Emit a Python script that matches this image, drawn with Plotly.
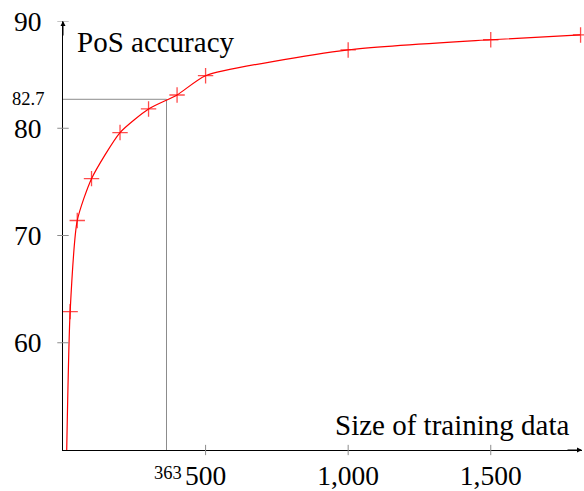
import plotly.graph_objects as go

# Data
train_size = [13, 25, 50, 100, 200, 300, 400, 500, 1000, 1500, 1815]
pos_accuracy = [50.0, 62.9, 71.4, 75.3, 79.6, 81.8, 83.1, 84.9, 87.3, 88.25, 88.7]
show_mark = [False, True, True, True, True, True, True, True, True, True, True]

ref_x = 363
ref_y = 82.7

y_ticks = [60, 70, 80, 90]
y_tick_labels = ["60", "70", "80", "90"]
x_ticks = [500, 1000, 1500]
x_tick_labels = ["500", "1,000", "1,500"]

X_MAX = 1820
Y_MIN, Y_MAX = 50, 90

FONT = "Liberation Serif"

fig = go.Figure()

# Reference lines
fig.add_trace(go.Scatter(
    x=[0, ref_x, ref_x], y=[ref_y, ref_y, Y_MIN],
    mode="lines", line=dict(color="#8c8c8c", width=1),
    hoverinfo="skip", showlegend=False, cliponaxis=False))

# Main curve
fig.add_trace(go.Scatter(
    x=train_size, y=pos_accuracy, mode="lines+markers",
    line=dict(color="#ff0000", width=1.2, shape="spline", smoothing=0.6),
    marker=dict(symbol="cross-thin", size=[11 if m else 0 for m in show_mark],
                line=dict(color="#ff0000", width=1.3), color="#ff0000"),
    showlegend=False, cliponaxis=False))

shapes = []
for t in y_ticks:
    shapes.append(dict(type="line", xref="paper", yref="y", x0=-0.011, x1=0.011,
                       y0=t, y1=t, line=dict(color="#8c8c8c", width=1)))
for t in x_ticks:
    shapes.append(dict(type="line", xref="x", yref="paper", x0=t, x1=t,
                       y0=-0.012, y1=0.012, line=dict(color="#8c8c8c", width=1)))

annotations = [
    # axis arrows
    dict(x=0, y=Y_MAX, xref="x", yref="y", ax=0, ay=16, axref="pixel", ayref="pixel",
         showarrow=True, arrowhead=2, arrowsize=1, arrowwidth=1, arrowcolor="black", text=""),
    dict(x=1, y=Y_MIN, xref="paper", yref="y", ax=-16, ay=0,
         showarrow=True, arrowhead=2, arrowsize=1, arrowwidth=1, arrowcolor="black", text=""),
    # axis titles
    dict(x=12 / 519, y=1.0, xref="paper", yref="paper", xanchor="left", yanchor="top",
         yshift=-3, text="PoS accuracy", showarrow=False,
         font=dict(family=FONT, size=29, color="black")),
    dict(x=(571 - 63) / 519, y=Y_MIN, xref="paper", yref="y", xanchor="right", yanchor="bottom",
         yshift=7, text="Size of training data", showarrow=False,
         font=dict(family=FONT, size=29, color="black")),
    # reference labels
    dict(x=0, y=ref_y, xref="paper", yref="y", xanchor="right", yanchor="middle",
         xshift=-17, text=f"{ref_y}", showarrow=False,
         font=dict(family=FONT, size=18.5, color="black")),
    dict(x=ref_x, y=0, xref="x", yref="paper", xanchor="center", yanchor="top",
         yshift=-11, xshift=1, text=f"{ref_x}", showarrow=False,
         font=dict(family=FONT, size=18.5, color="black")),
]

fig.update_layout(
    width=584, height=491,
    margin=dict(l=63, r=2, t=21, b=41),
    paper_bgcolor="white", plot_bgcolor="white",
    font=dict(family=FONT, color="black"),
    shapes=shapes, annotations=annotations,
    xaxis=dict(range=[0, X_MAX], showgrid=False, zeroline=False, showline=True,
               linecolor="black", linewidth=1, tickmode="array", automargin=False,
               tickvals=x_ticks, ticktext=x_tick_labels, ticks="",
               tickfont=dict(family=FONT, size=27.5, color="black"),
               ticklabelstandoff=1),
    yaxis=dict(range=[Y_MIN, Y_MAX], showgrid=False, zeroline=False, showline=True,
               linecolor="black", linewidth=1, tickmode="array", automargin=False,
               tickvals=y_ticks, ticktext=y_tick_labels, ticks="",
               tickfont=dict(family=FONT, size=27.5, color="black"),
               ticklabelstandoff=15),
)

fig.write_html("out.html", config={"displayModeBar": False},
               post_script="document.body.style.margin='0';document.body.style.padding='0';")
